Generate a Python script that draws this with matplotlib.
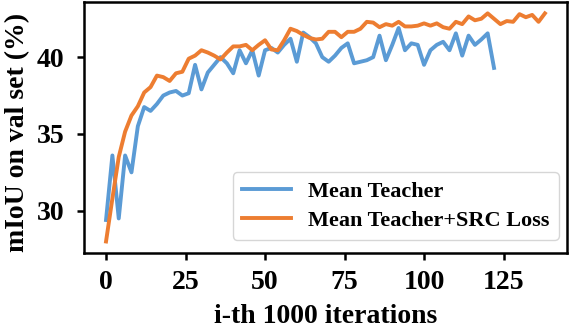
import numpy as np
import matplotlib
matplotlib.use("Agg")
import matplotlib.pyplot as plt

plt.rcParams['font.family'] = ['Liberation Serif', 'DejaVu Serif']
plt.rcParams['font.weight'] = 'bold'

# -- data: mIoU every 2000 iterations --
mt_miou = [
    29.4, 33.6, 29.5, 33.6, 32.5, 35.5, 36.75, 36.5, 36.95, 37.5,
    37.7, 37.8, 37.5, 37.65, 39.5, 37.9, 39.0, 39.5, 40.0, 39.6,
    38.95, 40.45, 39.6, 40.45, 38.8, 40.45, 40.6, 40.3, 40.8, 41.2,
    39.7, 41.6, 41.3, 40.9, 40.0, 39.7, 40.1, 40.6, 40.9, 39.6,
    39.7, 39.8, 40.0, 41.4, 39.8, 40.8, 41.9, 40.45, 40.9, 40.8,
    39.5, 40.45, 40.8, 41.0, 40.45, 41.55, 40.1, 41.4, 40.8, 41.15,
    41.55, 39.3,
]
src_miou = [
    28.0, 30.8, 33.5, 35.15, 36.2, 36.8, 37.7, 38.05, 38.8, 38.7,
    38.45, 38.95, 39.05, 39.9, 40.1, 40.45, 40.3, 40.1, 39.85, 40.3,
    40.7, 40.7, 40.8, 40.45, 40.8, 41.1, 40.5, 40.45, 41.1, 41.85,
    41.7, 41.45, 41.25, 41.15, 41.2, 41.65, 41.65, 41.3, 41.65, 41.65,
    41.85, 42.3, 42.25, 41.95, 42.15, 42.05, 42.3, 42.0, 42.0, 42.05,
    42.2, 42.05, 42.2, 41.95, 41.85, 42.3, 42.15, 42.65, 42.4, 42.5,
    42.85, 42.5, 42.15, 42.35, 42.3, 42.8, 42.6, 42.75, 42.3, 42.85,
]
labels = ['Mean Teacher', 'Mean Teacher+SRC Loss']

mt_iter = np.arange(len(mt_miou)) * 2
src_iter = np.arange(len(src_miou)) * 2

fig = plt.figure(figsize=(5.72, 3.28), dpi=100)
ax = fig.add_axes([0.147, 0.229, 0.844, 0.765])

ax.plot(mt_iter, mt_miou, color='#5B9BD5', lw=2.8, label=labels[0])
ax.plot(src_iter, src_miou, color='#ED7D31', lw=2.8, label=labels[1])

ax.set_xticks([0, 25, 50, 75, 100, 125])
ax.set_yticks([30, 35, 40])
ax.tick_params(labelsize=20, width=1.8, length=5)
ax.tick_params(axis='x', pad=7.5)
ax.tick_params(axis='y', pad=9)
for s in ax.spines.values():
    s.set_linewidth(1.8)

ax.set_xlabel('i-th 1000 iterations', fontsize=20, fontweight='bold')
ax.set_ylabel('mIoU on val set (%)', fontsize=20, fontweight='bold')
ax.xaxis.set_label_coords(0.5, -0.203)
ax.yaxis.set_label_coords(-0.112, 0.48)

ax.legend(loc='lower right', fontsize=16, handlelength=2.2, borderpad=0.4,
          labelspacing=0.4, handletextpad=0.8, borderaxespad=0,
          bbox_to_anchor=(0.983, 0.052))

fig.savefig('out.png', dpi=100)
